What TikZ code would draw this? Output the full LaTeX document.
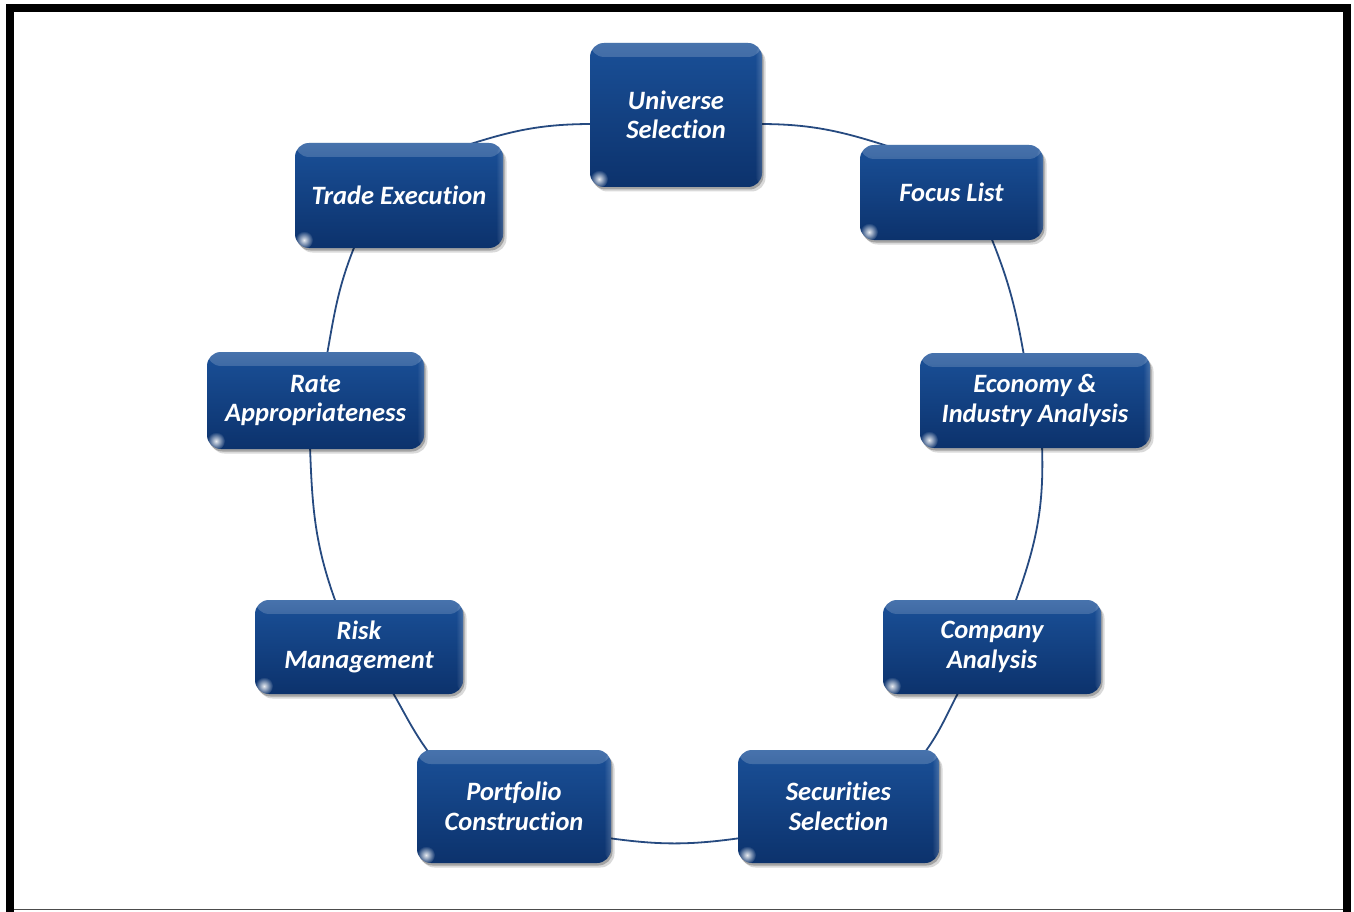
\documentclass[tikz,border=0pt]{standalone}
\usepackage{fontspec}
\setsansfont{Carlito}[Ligatures=NoCommon]
\usetikzlibrary{shadows,fadings,backgrounds}

\definecolor{boxtop}{RGB}{26,80,152}
\definecolor{boxbot}{RGB}{12,50,108}
\definecolor{ringline}{RGB}{38,74,128}

\tikzfading[name=fadedown, top color=transparent!0, bottom color=transparent!100]
\tikzfading[name=fadeleft, right color=transparent!0, left color=transparent!100]
\tikzfading[name=glowspot, inner color=transparent!0, outer color=transparent!100]

\tikzset{
  stepbox/.style={rounded corners=14pt, align=center, text=white,
    font=\sffamily\bfseries\itshape\fontsize{26.5}{29.5}\selectfont, inner sep=0pt,
    top color=boxtop, bottom color=boxbot,
    drop shadow={shadow xshift=3.5pt,shadow yshift=-4.5pt,opacity=.15,fill=black},
    drop shadow={shadow xshift=1.5pt,shadow yshift=-2.5pt,opacity=.25,fill=black},
    path picture={
      \fill[white,opacity=.2,path fading=fadedown]
        (path picture bounding box.north west) rectangle ([yshift=-14pt]path picture bounding box.north east);
      \fill[white,opacity=.2,path fading=fadeleft]
        ([xshift=-7pt]path picture bounding box.north east) rectangle (path picture bounding box.south east);
      \fill[white,opacity=.9,path fading=glowspot]
        ([xshift=9pt,yshift=8pt]path picture bounding box.south west) circle (9pt);
    }},
  ring/.style={draw=ringline, line width=1.8pt}
}

\begin{document}
\begin{tikzpicture}[x=1pt,y=1pt]
  \useasboundingbox (0,0) rectangle (1354,-912);

  % outer frame
  \draw[line width=8pt] (10,-930) -- (10,-8.5) -- (1346.5,-8.5) -- (1346.5,-930);
  \draw[black!70, line width=1pt] (14,-909.5) -- (1343,-909.5);

  % process steps
  \node[stepbox, minimum width=172pt, minimum height=144pt] (universe)   at (676,-115)     {Universe\\Selection};
  \node[stepbox, minimum width=183pt, minimum height=95pt]  (focus)      at (951.5,-192.5) {Focus List};
  \node[stepbox, minimum width=230pt, minimum height=95pt]  (economy)    at (1035,-400.5)  {Economy \&\\Industry Analysis};
  \node[stepbox, minimum width=218pt, minimum height=94pt]  (company)    at (992,-647)     {Company\\Analysis};
  \node[stepbox, minimum width=201pt, minimum height=113pt] (securities) at (838.5,-806.5) {Securities\\Selection};
  \node[stepbox, minimum width=194pt, minimum height=113pt] (portfolio)  at (514,-806.5)   {Portfolio\\Construction};
  \node[stepbox, minimum width=208pt, minimum height=94pt]  (risk)       at (359,-647)     {Risk\\Management};
  \node[stepbox, minimum width=217pt, minimum height=97pt]  (rate)       at (315.5,-400.5) {Rate\\Appropriateness};
  \node[stepbox, minimum width=208pt, minimum height=105pt] (trade)      at (399,-195.5)   {Trade Execution};

  % ring connecting the steps
  \begin{scope}[on background layer]
    \draw[ring] ([xshift=66pt,yshift=-3pt]trade.north) to[out=18,in=180] ([xshift=3pt,yshift=-9pt]universe.west);
    \draw[ring] ([xshift=-3pt,yshift=-9pt]universe.east) to[out=0,in=162] ([xshift=-58.5pt,yshift=-3pt]focus.north);
    \draw[ring] ([xshift=39.5pt,yshift=3pt]focus.south) to[out=-68,in=100] ([xshift=-11pt,yshift=-3pt]economy.north);
    \draw[ring] ([xshift=7pt,yshift=3pt]economy.south) to[out=-88,in=70] ([xshift=23pt,yshift=-3pt]company.north);
    \draw[ring] ([xshift=-33pt,yshift=3pt]company.south) to[out=-118,in=54] ([xshift=86pt,yshift=-3pt]securities.north);
    \draw[ring] ([xshift=3pt,yshift=-31.5pt]securities.west) to[out=188,in=-8] ([xshift=-3pt,yshift=-31.5pt]portfolio.east);
    \draw[ring] ([xshift=-85pt,yshift=-3pt]portfolio.north) to[out=126,in=-60] ([xshift=33pt,yshift=3pt]risk.south);
    \draw[ring] ([xshift=-23pt,yshift=-3pt]risk.north) to[out=110,in=-88] ([xshift=-5.5pt,yshift=3pt]rate.south);
    \draw[ring] ([xshift=11.5pt,yshift=-3pt]rate.north) to[out=80,in=-112] ([xshift=-44pt,yshift=3pt]trade.south);
  \end{scope}
\end{tikzpicture}
\end{document}
